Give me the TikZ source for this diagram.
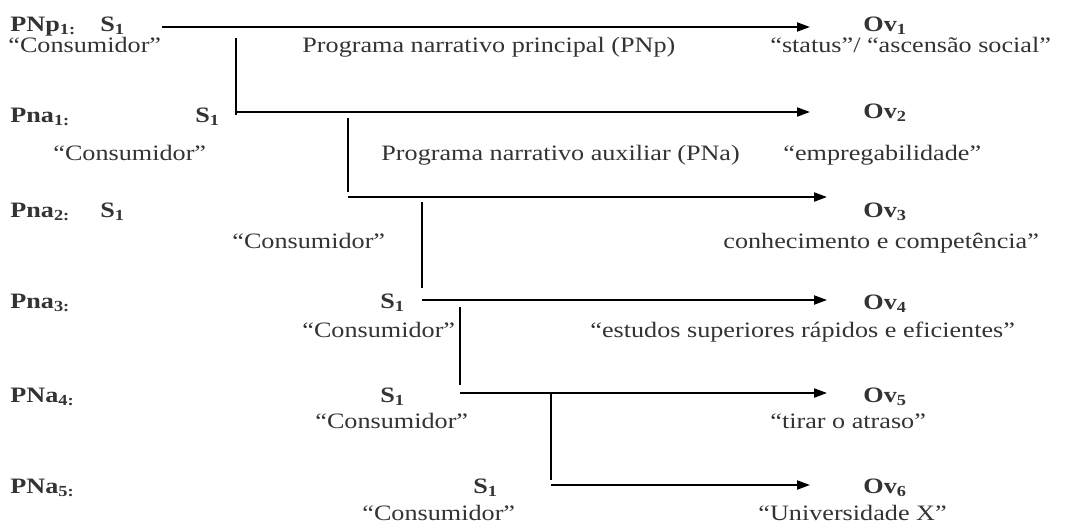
\documentclass[tikz,border=0pt]{standalone}
\usepackage{fontspec}
\setmainfont{Liberation Serif}[FakeStretch=1.19]
\usepackage{xcolor}
\usetikzlibrary{arrows.meta}
\definecolor{inkgray}{HTML}{333333}

\begin{document}
\begin{tikzpicture}[
    x=0.5pt, y=-0.5pt,
    every node/.style={inner sep=0pt, anchor=base west, text=inkgray},
    label/.style={font=\fontsize{11}{13}\selectfont},
    actant/.style={font=\fontsize{11}{13}\selectfont\bfseries},
    link/.style={line width=1pt},
    arrow/.style={-{Triangle[length=6.5pt,width=4.5pt]}, line width=1pt}
]
    \useasboundingbox (0,0) rectangle (1070,527);

    % Programs
    \node[actant] (pnp1) at (10,31) {PNp\textsubscript{1:}};
    \node[actant] (pna1) at (10,122) {Pna\textsubscript{1:}};
    \node[actant] (pna2) at (10,217) {Pna\textsubscript{2:}};
    \node[actant] (pna3) at (10,308) {Pna\textsubscript{3:}};
    \node[actant] (pna4) at (10,402) {PNa\textsubscript{4:}};
    \node[actant] (pna5) at (10,493) {PNa\textsubscript{5:}};

    % Subjects
    \node[actant] (subj1) at (100,31) {S\textsubscript{1}};
    \node[actant] (subj2) at (195,122) {S\textsubscript{1}};
    \node[actant] (subj3) at (100,217) {S\textsubscript{1}};
    \node[actant] (subj4) at (380,308) {S\textsubscript{1}};
    \node[actant] (subj5) at (380,402) {S\textsubscript{1}};
    \node[actant] (subj6) at (473,493) {S\textsubscript{1}};
    \node[label] (cons1) at (8,52) {“Consumidor”};
    \node[label] (cons2) at (53,160) {“Consumidor”};
    \node[label] (cons3) at (232,248) {“Consumidor”};
    \node[label] (cons4) at (302,337) {“Consumidor”};
    \node[label] (cons5) at (315,428) {“Consumidor”};
    \node[label] (cons6) at (362,520) {“Consumidor”};

    % Objects of value
    \node[actant] (ov1) at (863,31) {Ov\textsubscript{1}};
    \node[actant] (ov2) at (863,118) {Ov\textsubscript{2}};
    \node[actant] (ov3) at (863,217) {Ov\textsubscript{3}};
    \node[actant] (ov4) at (863,309) {Ov\textsubscript{4}};
    \node[actant] (ov5) at (863,402) {Ov\textsubscript{5}};
    \node[actant] (ov6) at (863,493) {Ov\textsubscript{6}};
    \node[label] (val1) at (770,52) {“status”/ “ascensão social”};
    \node[label] (val2) at (783,160) {“empregabilidade”};
    \node[label] (val3) at (723,248) {conhecimento e competência”};
    \node[label] (val4) at (590,337) {“estudos superiores rápidos e eficientes”};
    \node[label] (val5) at (770,428) {“tirar o atraso”};
    \node[label] (val6) at (758,520) {“Universidade X”};

    % Program names
    \node[label] (progp) at (302,52) {Programa narrativo principal (PNp)};
    \node[label] (proga) at (381,160) {Programa narrativo auxiliar (PNa)};

    % Line ends
    \coordinate (h1s) at (162,27);  \coordinate (h1e) at (810,27);
    \coordinate (h2s) at (236,112); \coordinate (h2e) at (810,112);
    \coordinate (h3s) at (348,197); \coordinate (h3e) at (827,197);
    \coordinate (h4s) at (422,300); \coordinate (h4e) at (827,300);
    \coordinate (h5s) at (460,393); \coordinate (h5e) at (827,393);
    \coordinate (h6s) at (551,485); \coordinate (h6e) at (810,485);
    \coordinate (v1t) at (236,38);  \coordinate (v1b) at (236,115);
    \coordinate (v2t) at (348,118); \coordinate (v2b) at (348,192);
    \coordinate (v3t) at (422,202); \coordinate (v3b) at (422,288);
    \coordinate (v4t) at (460,307); \coordinate (v4b) at (460,385);
    \coordinate (v5t) at (551,393); \coordinate (v5b) at (551,480);

    % Arrows
    \draw[arrow] (h1s) -- (h1e);
    \draw[arrow] (h2s) -- (h2e);
    \draw[arrow] (h3s) -- (h3e);
    \draw[arrow] (h4s) -- (h4e);
    \draw[arrow] (h5s) -- (h5e);
    \draw[arrow] (h6s) -- (h6e);

    % Branches
    \draw[link] (v1t) -- (v1b);
    \draw[link] (v2t) -- (v2b);
    \draw[link] (v3t) -- (v3b);
    \draw[link] (v4t) -- (v4b);
    \draw[link] (v5t) -- (v5b);
\end{tikzpicture}
\end{document}
